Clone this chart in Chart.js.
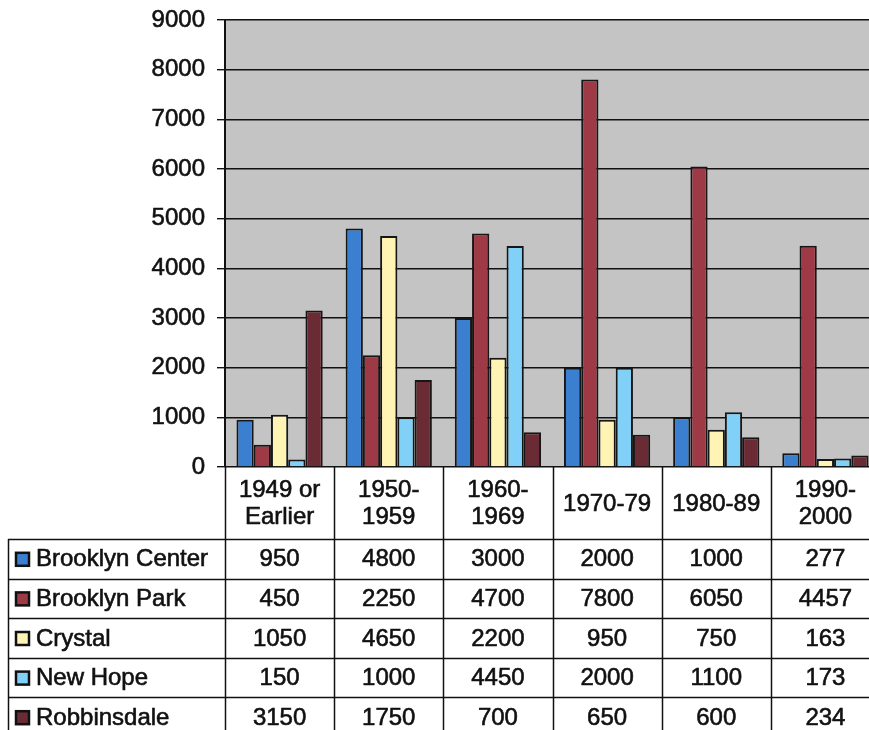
<!DOCTYPE html>
<html>
<head>
<meta charset="utf-8">
<script src="https://cdn.jsdelivr.net/npm/chart.js@4/dist/chart.umd.min.js"></script>
<style>
  html, body { margin: 0; padding: 0; background: #ffffff; overflow: hidden; }
  #wrap { width: 880px; height: 730px; }
</style>
</head>
<body>
<div id="wrap"><canvas id="c" width="880" height="730"></canvas></div>
<script>
// Housing units built by decade, by city
const periods = [["1949 or", "Earlier"], ["1950-", "1959"], ["1960-", "1969"], ["1970-79"], ["1980-89"], ["1990-", "2000"]];
const cities = ["Brooklyn Center", "Brooklyn Park", "Crystal", "New Hope", "Robbinsdale"];
const brooklynCenter = [950, 4800, 3000, 2000, 1000, 277];
const brooklynPark   = [450, 2250, 4700, 7800, 6050, 4457];
const crystal        = [1050, 4650, 2200, 950, 750, 163];
const newHope        = [150, 1000, 4450, 2000, 1100, 173];
const robbinsdale    = [3150, 1750, 700, 650, 600, 234];
const yTicks = [0, 1000, 2000, 3000, 4000, 5000, 6000, 7000, 8000, 9000];

const seriesValues = [brooklynCenter, brooklynPark, crystal, newHope, robbinsdale];
const seriesColors = ["#3b7fd0", "#9e3a46", "#fff4b4", "#80d0f7", "#6a2b34"];

const FONT = '"Liberation Sans", Arial, sans-serif';
const INK = "#111111";

// Grey plot background
const plotBackground = {
  id: "plotBackground",
  beforeDraw(chart) {
    const { ctx, chartArea: a } = chart;
    ctx.save();
    ctx.fillStyle = "#c4c4c4";
    ctx.fillRect(a.left, a.top, a.right - a.left, a.bottom - a.top);
    ctx.restore();
  }
};

function inkText(ctx, t, x, y) {
  ctx.fillText(t, x, y);
  ctx.strokeText(t, x, y);
}

// Data table under the plot: period headers, one row per city with legend key
const dataTable = {
  id: "dataTable",
  afterDraw(chart) {
    const { ctx, chartArea: a } = chart;
    const xs = chart.scales.x;
    const n = periods.length;
    const colW = (a.right - a.left) / n;
    const headerBottom = a.bottom + 72;
    const rowH = 39.6;
    const tableLeft = 8;
    const bottom = headerBottom + rowH * cities.length;

    ctx.save();
    ctx.strokeStyle = INK;
    ctx.lineWidth = 1.5;

    // vertical column lines
    for (let i = 0; i <= n; i++) {
      const x = Math.round(a.left + i * colW) + 0.5;
      ctx.beginPath();
      ctx.moveTo(x, a.bottom);
      ctx.lineTo(x, bottom);
      ctx.stroke();
    }
    // table left edge
    ctx.beginPath();
    ctx.moveTo(tableLeft + 0.5, headerBottom);
    ctx.lineTo(tableLeft + 0.5, bottom);
    ctx.stroke();
    // horizontal row lines
    for (let r = 0; r <= cities.length; r++) {
      const y = Math.round(headerBottom + r * rowH) + 0.5;
      ctx.beginPath();
      ctx.moveTo(tableLeft, y);
      ctx.lineTo(a.right, y);
      ctx.stroke();
    }

    ctx.fillStyle = INK;
    ctx.font = "24px " + FONT;
    ctx.textAlign = "center";
    ctx.textBaseline = "middle";
    ctx.lineWidth = 0.6;
    ctx.strokeStyle = INK;

    // period headers
    periods.forEach((lines, i) => {
      const cx = xs.getPixelForValue(i);
      const mid = (a.bottom + headerBottom) / 2 + 1;
      const lh = 27;
      lines.forEach((t, k) => {
        const y = mid + (k - (lines.length - 1) / 2) * lh;
        inkText(ctx, t, cx, y);
      });
    });

    // rows
    cities.forEach((name, r) => {
      const cy = headerBottom + r * rowH + rowH / 2 + 1;
      // legend key
      ctx.fillStyle = seriesColors[r];
      ctx.fillRect(16, cy - 7, 13, 13);
      ctx.strokeStyle = "#111";
      ctx.lineWidth = 2.5;
      ctx.strokeRect(16, cy - 7, 13, 13);
      ctx.fillStyle = INK;
      ctx.lineWidth = 0.6;
      ctx.textAlign = "left";
      inkText(ctx, name, 36, cy);
      ctx.textAlign = "center";
      seriesValues[r].forEach((v, i) => {
        inkText(ctx, String(v), xs.getPixelForValue(i), cy);
      });
    });
    ctx.restore();
  }
};

new Chart(document.getElementById("c"), {
  type: "bar",
  data: {
    labels: periods.map(p => p.join(" ")),
    datasets: cities.map((name, i) => ({
      label: name,
      data: seriesValues[i],
      backgroundColor: seriesColors[i],
      borderColor: "#161616",
      borderWidth: 2,
      borderSkipped: "bottom",
      categoryPercentage: 0.79,
      barPercentage: 1.0
    }))
  },
  options: {
    responsive: false,
    animation: false,
    devicePixelRatio: 1,
    layout: { padding: { top: 20, bottom: 263, left: 0, right: 0 } },
    plugins: { legend: { display: false }, tooltip: { enabled: false } },
    scales: {
      x: { display: false },
      y: {
        min: 0,
        max: 9000,
        afterFit(scale) {
          scale.width = 225;
          scale.paddingTop = 0;
          scale.paddingBottom = 0;
        },
        afterBuildTicks(scale) { scale.ticks = yTicks.map(v => ({ value: v })); },
        ticks: {
          color: INK,
          font: { family: FONT, size: 24 },
          padding: 12,
          textStrokeColor: INK,
          textStrokeWidth: 0.6,
          callback: v => String(v)
        },
        grid: {
          color: "#111",
          lineWidth: 1.4,
          tickLength: 8,
          drawTicks: true
        },
        border: { display: true, color: "#111", width: 2 }
      }
    }
  },
  plugins: [plotBackground, dataTable]
});
</script>
</body>
</html>
